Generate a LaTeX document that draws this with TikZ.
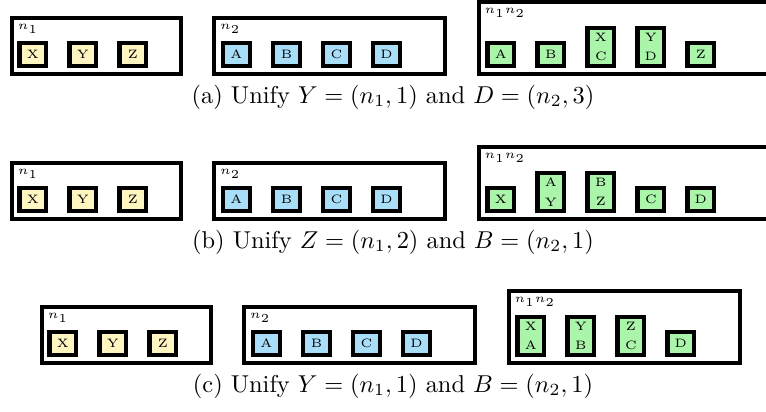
\documentclass[tikz,border=0pt]{standalone}
\usetikzlibrary{positioning}
\definecolor{varyellow}{HTML}{FFF5C0}
\definecolor{varblue}{HTML}{A8DEF8}
\definecolor{vargreen}{HTML}{AAF5AA}
\tikzset{
  holder/.style={rectangle, draw, line width=1.6pt, minimum width=#1,
    minimum height=23pt, inner sep=0pt, anchor=south west},
  holder/.default=69.3pt,
  tallholder/.style={minimum height=29.5pt},
  tag/.style={font=\tiny, inner sep=0pt, anchor=north west, xshift=3pt, yshift=-3.2pt},
  var/.style={rectangle, draw, line width=1.8pt, minimum width=10.9pt,
    minimum height=9.3pt, inner sep=0.5pt, font=\tiny, align=center},
  varY/.style={var, fill=varyellow},
  varB/.style={var, fill=varblue},
  varG/.style={var, fill=vargreen},
  tall/.style={minimum height=15.4pt},
  caption/.style={font=\normalsize, anchor=base},
}
\begin{document}
\begin{tikzpicture}[x=0.41pt, y=-0.41pt, node distance=7.8pt]
\useasboundingbox (0,0) rectangle (766,412);
% (a)
\node[holder, label={[tag]north west:$n_1$}] (a1) at (10,76) {};
\node[holder=94.7pt, right=12.1pt of a1.south east, anchor=south west, label={[tag]north west:$n_2$}] (a2) {};
\node[holder=118.5pt, tallholder, right=12.1pt of a2.south east, anchor=south west, label={[tag]north west:$n_1n_2$}] (a3) {};
\node[varY, above right=3.3pt and 3pt of a1.south west] (a1x) {X};
\node[varY, right=of a1x.south east, anchor=south west] (a1y) {Y};
\node[varY, right=of a1y.south east, anchor=south west] (a1z) {Z};
\node[varB, above right=3.3pt and 3.5pt of a2.south west] (a2a) {A};
\node[varB, right=of a2a.south east, anchor=south west] (a2b) {B};
\node[varB, right=of a2b.south east, anchor=south west] (a2c) {C};
\node[varB, right=of a2c.south east, anchor=south west] (a2d) {D};
\node[varG, above right=3.3pt and 3.5pt of a3.south west] (a3a) {A};
\node[varG, right=of a3a.south east, anchor=south west] (a3b) {B};
\node[varG, tall, right=of a3b.south east, anchor=south west] (a3xc) {X\\[2pt]C};
\node[varG, tall, right=of a3xc.south east, anchor=south west] (a3yd) {Y\\[2pt]D};
\node[varG, right=of a3yd.south east, anchor=south west] (a3z) {Z};
\node[caption] (capa) at (393,103) {(a) Unify $Y=(n_1,1)$ and $D=(n_2,3)$};
% (b)
\node[holder, label={[tag]north west:$n_1$}] (b1) at (10,221) {};
\node[holder=94.7pt, right=12.1pt of b1.south east, anchor=south west, label={[tag]north west:$n_2$}] (b2) {};
\node[holder=118.5pt, tallholder, right=12.1pt of b2.south east, anchor=south west, label={[tag]north west:$n_1n_2$}] (b3) {};
\node[varY, above right=3.3pt and 3pt of b1.south west] (b1x) {X};
\node[varY, right=of b1x.south east, anchor=south west] (b1y) {Y};
\node[varY, right=of b1y.south east, anchor=south west] (b1z) {Z};
\node[varB, above right=3.3pt and 3.5pt of b2.south west] (b2a) {A};
\node[varB, right=of b2a.south east, anchor=south west] (b2b) {B};
\node[varB, right=of b2b.south east, anchor=south west] (b2c) {C};
\node[varB, right=of b2c.south east, anchor=south west] (b2d) {D};
\node[varG, above right=3.3pt and 3.5pt of b3.south west] (b3x) {X};
\node[varG, tall, right=of b3x.south east, anchor=south west] (b3ay) {A\\[2pt]Y};
\node[varG, tall, right=of b3ay.south east, anchor=south west] (b3bz) {B\\[2pt]Z};
\node[varG, right=of b3bz.south east, anchor=south west] (b3c) {C};
\node[varG, right=of b3c.south east, anchor=south west] (b3d) {D};
\node[caption] (capb) at (393,248) {(b) Unify $Z=(n_1,2)$ and $B=(n_2,1)$};
% (c)
\node[holder, label={[tag]north west:$n_1$}] (c1) at (40,365) {};
\node[holder=94.7pt, right=12.1pt of c1.south east, anchor=south west, label={[tag]north west:$n_2$}] (c2) {};
\node[holder=94.7pt, tallholder, right=12.1pt of c2.south east, anchor=south west, label={[tag]north west:$n_1n_2$}] (c3) {};
\node[varY, above right=3.3pt and 3pt of c1.south west] (c1x) {X};
\node[varY, right=of c1x.south east, anchor=south west] (c1y) {Y};
\node[varY, right=of c1y.south east, anchor=south west] (c1z) {Z};
\node[varB, above right=3.3pt and 3.5pt of c2.south west] (c2a) {A};
\node[varB, right=of c2a.south east, anchor=south west] (c2b) {B};
\node[varB, right=of c2b.south east, anchor=south west] (c2c) {C};
\node[varB, right=of c2c.south east, anchor=south west] (c2d) {D};
\node[varG, tall, above right=3.3pt and 3.5pt of c3.south west] (c3xa) {X\\[2pt]A};
\node[varG, tall, right=of c3xa.south east, anchor=south west] (c3yb) {Y\\[2pt]B};
\node[varG, tall, right=of c3yb.south east, anchor=south west] (c3zc) {Z\\[2pt]C};
\node[varG, right=of c3zc.south east, anchor=south west] (c3d) {D};
\node[caption] (capc) at (393,392) {(c) Unify $Y=(n_1,1)$ and $B=(n_2,1)$};
\end{tikzpicture}
\end{document}
